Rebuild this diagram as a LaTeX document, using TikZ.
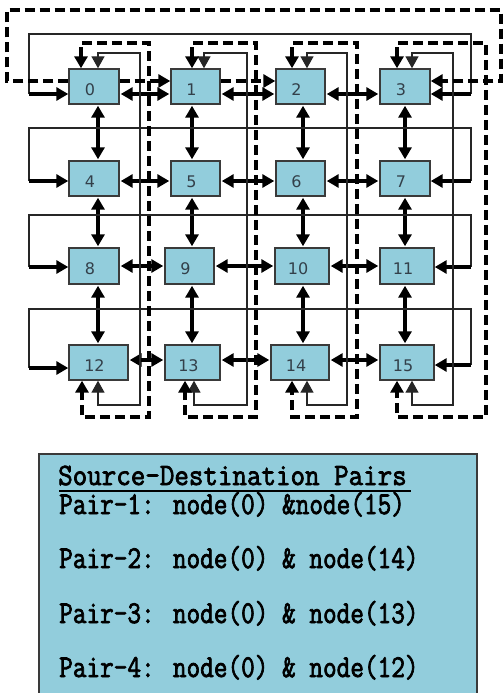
\documentclass[tikz,border=0pt]{standalone}
\usepackage{fontspec}
\usepackage{graphicx}
\usetikzlibrary{arrows.meta,calc}
\newfontfamily\numfont{DejaVu Sans}
\newfontfamily\pairfont{Latin Modern Mono}[FakeBold=2.5]
\definecolor{boxblue}{HTML}{92CDDC}
\definecolor{edgegray}{HTML}{3A3A3A}
\definecolor{numgray}{HTML}{33404A}
\begin{document}
\begin{tikzpicture}[x=1pt,y=-1pt,>={Triangle[length=12pt,width=13pt]},
  pe/.style={draw=edgegray,line width=1.4pt,fill=boxblue,minimum height=35pt,inner sep=0pt},
  lbl/.style={font=\numfont\fontsize{16}{17}\selectfont,text=numgray,xshift=-4pt,yshift=-3pt,inner sep=0pt},
  thk/.style={line width=3.3pt,draw=black},
  thn/.style={line width=1.4pt,draw=black!85},
  dsh/.style={line width=3.2pt,draw=black,dash pattern=on 10pt off 5pt},
  ptxt/.style={anchor=base west,inner sep=0pt,text height=20pt,text depth=5pt,font=\pairfont\fontsize{26.5}{27}\selectfont}]
\useasboundingbox (0,0) rectangle (503,693);

% processing elements
\node[pe,minimum width=50pt,label={[lbl]center:0}] (n0) at (94,86.5) {};
\node[pe,minimum width=49pt,label={[lbl]center:1}] (n1) at (195.5,86.5) {};
\node[pe,minimum width=49pt,label={[lbl]center:2}] (n2) at (300.5,86.5) {};
\node[pe,minimum width=50pt,label={[lbl]center:3}] (n3) at (405,86.5) {};
\node[pe,minimum width=50pt,label={[lbl]center:4}] (n4) at (94,178.5) {};
\node[pe,minimum width=49pt,label={[lbl]center:5}] (n5) at (195.5,178.5) {};
\node[pe,minimum width=49pt,label={[lbl]center:6}] (n6) at (300.5,178.5) {};
\node[pe,minimum width=50pt,label={[lbl]center:7}] (n7) at (405,178.5) {};
\node[pe,minimum width=50pt,minimum height=36pt,label={[lbl]center:8}] (n8) at (94,266) {};
\node[pe,minimum width=49pt,minimum height=36pt,label={[lbl]center:9}] (n9) at (189.5,266) {};
\node[pe,minimum width=54pt,minimum height=36pt,label={[lbl]center:10}] (n10) at (302,266) {};
\node[pe,minimum width=54pt,minimum height=36pt,label={[lbl]center:11}] (n11) at (407,266) {};
\node[pe,minimum width=59pt,label={[lbl]center:12}] (n12) at (98.5,362.5) {};
\node[pe,minimum width=55pt,label={[lbl]center:13}] (n13) at (192.5,362.5) {};
\node[pe,minimum width=58pt,label={[lbl]center:14}] (n14) at (300,362.5) {};
\node[pe,minimum width=54pt,label={[lbl]center:15}] (n15) at (407,362.5) {};

% helper coordinates
\coordinate (cx0) at (98,0);
\coordinate (cx1) at (192,0);
\coordinate (cx2) at (303,0);
\coordinate (cx3) at (405,0);
\coordinate (hy0) at (0,94);
\coordinate (hy1) at (0,181);
\coordinate (hy2) at (0,266);
\coordinate (hy3) at (0,360);
\coordinate (dy) at (0,81);

% vertical neighbour links
\foreach \a/\b/\c in {0/4/0,4/8/0,8/12/0,1/5/1,5/9/1,9/13/1,2/6/2,6/10/2,10/14/2,3/7/3,7/11/3,11/15/3}
  \draw[thk,<->,shorten <=1pt,shorten >=1pt] (n\a.south -| cx\c) -- (n\b.north -| cx\c);

% horizontal neighbour links
\foreach \a/\b/\r in {0/1/0,1/2/0,2/3/0,4/5/1,5/6/1,6/7/1,8/9/2,9/10/2,10/11/2,12/13/3,13/14/3,14/15/3}
  \draw[thk,<->,shorten <=1pt,shorten >=1pt] (n\a.east |- hy\r) -- (n\b.west |- hy\r);

% row wraparound links
\foreach \r/\a/\b/\ly/\ry/\ty in {0/0/3/94/94/34,1/4/7/181/181/128,2/8/11/267/267/215,3/12/15/368/365/309}{
  \coordinate (L\r) at (29,\ly);
  \coordinate (R\r) at (471,\ry);
  \coordinate (T\r) at (250,\ty);
  \draw[thn] (L\r) |- (T\r) -| (R\r);
  \draw[thk,->] (L\r) -- (L\r -| n\a.west);
  \draw[thk,->] (R\r) -- (R\r -| n\b.east);
}

% column wraparound links (solid and dashed)
\foreach \c/\t/\b/\dt/\st/\db/\sb/\sr/\dr in
  {0/0/12/81/98/82/98/140/149,
   1/1/13/192/204/185/194/247/256,
   2/2/14/292/307/292/307/347/357,
   3/3/15/397/412/397/412/453/486}{
  \coordinate (st\c) at (\st,53);
  \coordinate (sr\c) at (\sr,53);
  \coordinate (sb\c) at (\sb,405);
  \coordinate (dt\c) at (\dt,43);
  \coordinate (dr\c) at (\dr,43);
  \coordinate (db\c) at (\db,417);
  \draw[thn,<->] (n\t.north -| st\c) |- (sr\c) |- (sb\c) -- (n\b.south -| sb\c);
  \draw[dsh,<->] (n\t.north -| dt\c) |- (dr\c) |- (db\c) -- (n\b.south -| db\c);
}

% dashed routes in row 0
\coordinate (OL) at (7,10);
\coordinate (OR) at (501,81);
\draw[dsh,->] (n0.east |- dy) -- (n1.west |- dy);
\draw[dsh,->] (n1.east |- dy) -- (n2.west |- dy);
\draw[dsh,->] (n0.west |- dy) -| (OL) -| (OR) -- (n3.east |- dy);

% source-destination box
\begin{scope}
\clip (0,0) rectangle (503,693);
\node[draw=edgegray,line width=2pt,fill=boxblue,minimum width=438pt,minimum height=260pt,anchor=north west,inner sep=0pt] (pairs) at (38,453) {};
\end{scope}
\node[ptxt,text height=19pt,text depth=0pt,font=\pairfont\fontsize{28.2}{29}\selectfont] (hdr) at (58,485) {\scalebox{1}[1.1]{Source-Destination Pairs}};
\draw[line width=1.5pt] (59,491) -- (411,491);
\node[ptxt] (p1) at (59,514) {\scalebox{1}[1.2]{Pair-1: node(0) \&node(15)}};
\node[ptxt] (p2) at (59,568) {\scalebox{1}[1.2]{Pair-2: node(0) \& node(14)}};
\node[ptxt] (p3) at (59,623) {\scalebox{1}[1.2]{Pair-3: node(0) \& node(13)}};
\node[ptxt] (p4) at (59,677) {\scalebox{1}[1.2]{Pair-4: node(0) \& node(12)}};
\end{tikzpicture}
\end{document}
